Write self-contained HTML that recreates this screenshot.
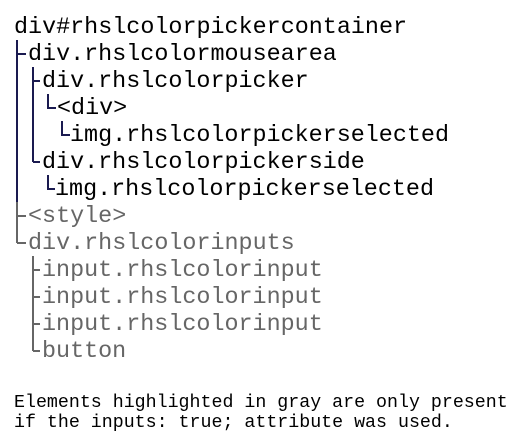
<!DOCTYPE html><html><head><style>
body{margin:0;width:523px;height:443px;background:#fff;position:relative;overflow:hidden}
.t{position:absolute;font-family:"Liberation Mono",monospace;font-size:23.4px;line-height:27px;white-space:pre;color:#000}
.g{color:#666}
.f{position:absolute;font-family:"Liberation Mono",monospace;font-size:18.3px;white-space:pre;color:#000;left:14px}
svg{position:absolute;left:0;top:0}
</style></head><body>
<svg width="523" height="443" stroke-width="2" fill="none">
<g stroke="#1a1a50">
<path d="M17 40V202M17 54H26M33 67V162M33 81H40M33 162H40M48 94V108H56M62 121V135H70M48 175V189H55"/>
</g>
<g stroke="#666">
<path d="M17 202V243M17 216H26M17 243H26M33 256V351M33 270H40M33 297H40M33 324H40M33 351H40"/>
</g>
</svg>
<div class="t" style="left:14px;top:15px">div#rhslcolorpickercontainer</div>
<div class="t" style="left:28px;top:42px">div.rhslcolormousearea</div>
<div class="t" style="left:42px;top:69px">div.rhslcolorpicker</div>
<div class="t" style="left:57px;top:96px">&lt;div&gt;</div>
<div class="t" style="left:70px;top:123px">img.rhslcolorpickerselected</div>
<div class="t" style="left:42px;top:150px">div.rhslcolorpickerside</div>
<div class="t" style="left:55px;top:177px">img.rhslcolorpickerselected</div>
<div class="t g" style="left:28px;top:204px">&lt;style&gt;</div>
<div class="t g" style="left:28px;top:231px">div.rhslcolorinputs</div>
<div class="t g" style="left:42px;top:258px">input.rhslcolorinput</div>
<div class="t g" style="left:42px;top:285px">input.rhslcolorinput</div>
<div class="t g" style="left:42px;top:312px">input.rhslcolorinput</div>
<div class="t g" style="left:42px;top:339px">button</div>
<div class="f" style="top:393px">Elements highlighted in gray are only present</div>
<div class="f" style="top:413px">if the inputs: true; attribute was used.</div>
</body></html>
